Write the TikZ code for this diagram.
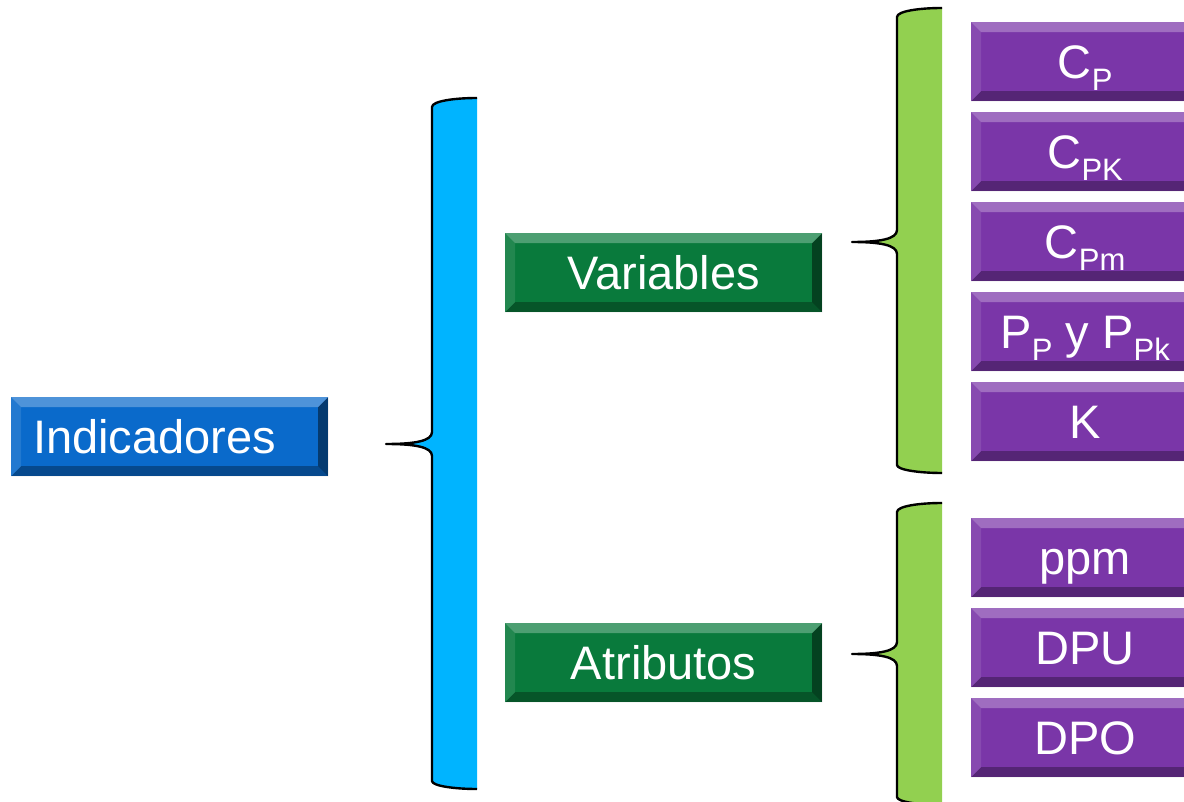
\documentclass[tikz,border=0pt]{standalone}
\usepackage{fontspec}
\setmainfont{Liberation Sans}
\newcommand\lowsub[1]{\raisebox{-12pt}{\fontsize{31}{31}\selectfont #1}}
\definecolor{boxblue}{HTML}{0A6ACB}
\definecolor{boxgreen}{HTML}{097A3C}
\definecolor{boxpurple}{HTML}{7A36A8}
\definecolor{bracecyan}{HTML}{00B4FF}
\definecolor{bracegreen}{HTML}{92D050}
\tikzset{
  bevelbox/.style={
    fill=#1, anchor=north west, inner sep=0pt,
    text=white, font=\fontsize{47}{50}\selectfont,
    text height=34pt, text depth=0pt, minimum height=79pt,
    path picture={
      \coordinate (nw) at (path picture bounding box.north west);
      \coordinate (ne) at (path picture bounding box.north east);
      \coordinate (sw) at (path picture bounding box.south west);
      \coordinate (se) at (path picture bounding box.south east);
      \coordinate (inw) at ([shift={(10pt,-10pt)}]nw);
      \coordinate (ine) at ([shift={(-10pt,-10pt)}]ne);
      \coordinate (isw) at ([shift={(10pt,10pt)}]sw);
      \coordinate (ise) at ([shift={(-10pt,10pt)}]se);
      \fill[white,opacity=0.28] (nw) -- (ne) -- (ine) -- (inw) -- cycle;
      \fill[white,opacity=0.10] (nw) -- (inw) -- (isw) -- (sw) -- cycle;
      \fill[black,opacity=0.30] (sw) -- (isw) -- (ise) -- (se) -- cycle;
      \fill[black,opacity=0.45] (ne) -- (se) -- (ise) -- (ine) -- cycle;
    }},
  mainbox/.style={bevelbox=#1, minimum width=317pt},
  leafbox/.style={bevelbox=boxpurple, minimum width=228pt},
  braceline/.style={draw=black, line width=2.4pt, line join=round},
}
\begin{document}
\begin{tikzpicture}[x=1pt, y=-1pt]
\useasboundingbox (0,0) rectangle (1184,802);
\clip (0,0) rectangle (1184,802);

% left-hand braces: filled band with a black curly edge
\fill[bracecyan] (477,98) .. controls (455,98) and (432,101) .. (432,107) -- (432,432)
  .. controls (432,441) and (415,444) .. (386,444) .. controls (415,444) and (432,447) .. (432,456)
  -- (432,781) .. controls (432,786) and (455,789) .. (477,789) -- cycle;
\draw[braceline] (477,98) .. controls (455,98) and (432,101) .. (432,107) -- (432,432)
  .. controls (432,441) and (415,444) .. (386,444) .. controls (415,444) and (432,447) .. (432,456)
  -- (432,781) .. controls (432,786) and (455,789) .. (477,789);

\fill[bracegreen] (942,8) .. controls (920,8) and (897,11) .. (897,17) -- (897,230)
  .. controls (897,239) and (880,242) .. (852,242) .. controls (880,242) and (897,245) .. (897,254)
  -- (897,465) .. controls (897,470) and (920,473) .. (942,473) -- cycle;
\draw[braceline] (942,8) .. controls (920,8) and (897,11) .. (897,17) -- (897,230)
  .. controls (897,239) and (880,242) .. (852,242) .. controls (880,242) and (897,245) .. (897,254)
  -- (897,465) .. controls (897,470) and (920,473) .. (942,473);

\fill[bracegreen] (942,503) .. controls (920,503) and (897,506) .. (897,512) -- (897,642)
  .. controls (897,651) and (880,654) .. (852,654) .. controls (880,654) and (897,657) .. (897,666)
  -- (897,797) .. controls (897,802) and (920,805) .. (942,805) -- cycle;
\draw[braceline] (942,503) .. controls (920,503) and (897,506) .. (897,512) -- (897,642)
  .. controls (897,651) and (880,654) .. (852,654) .. controls (880,654) and (897,657) .. (897,666)
  -- (897,797) .. controls (897,802) and (920,805) .. (942,805);

% category boxes
\node[mainbox=boxblue] (ind) at (11,397) {Indicadores\hspace*{30pt}};
\node[mainbox=boxgreen] (var) at (505,233) {Variables};
\node[mainbox=boxgreen] (atr) at (505,623) {Atributos};

% indicator boxes (running off the right-hand edge)
\node[leafbox] (cp)  at (971,22)  {C\lowsub{P}};
\node[leafbox] (cpk) at (971,112) {C\lowsub{PK}};
\node[leafbox] (cpm) at (971,202) {C\lowsub{Pm}};
\node[leafbox] (pp)  at (971,292) {P\lowsub{P} y P\lowsub{Pk}};
\node[leafbox] (k)   at (971,382) {K};
\node[leafbox] (ppm) at (971,518) {ppm};
\node[leafbox] (dpu) at (971,608) {DPU};
\node[leafbox] (dpo) at (971,698) {DPO};
\end{tikzpicture}
\end{document}
